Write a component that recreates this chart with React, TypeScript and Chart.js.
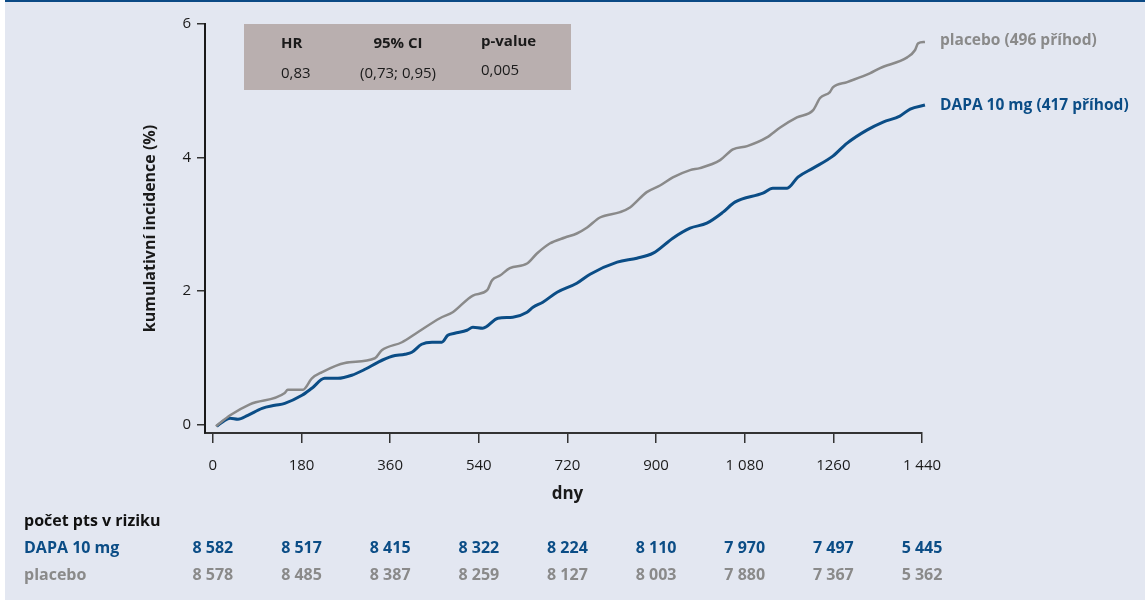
import React, { useEffect, useRef } from "react";
import { Chart, registerables } from "chart.js";

Chart.register(...registerables);

const placeboDays = [6, 35, 75, 146, 152, 183, 201, 221, 268, 329, 343, 384, 416, 461, 487, 528, 557, 567, 583, 603, 638, 658, 684, 715, 739, 760, 786, 827, 847, 881, 908, 934, 969, 989, 1030, 1056, 1085, 1125, 1152, 1186, 1219, 1233, 1253, 1259, 1288, 1334, 1355, 1410, 1426, 1432, 1446];
const placeboValues = [-0.03, 0.135, 0.3, 0.47, 0.52, 0.52, 0.69, 0.78, 0.92, 0.99, 1.11, 1.23, 1.38, 1.59, 1.68, 1.93, 2.01, 2.16, 2.23, 2.34, 2.41, 2.56, 2.71, 2.8, 2.86, 2.95, 3.1, 3.18, 3.25, 3.48, 3.58, 3.7, 3.81, 3.84, 3.96, 4.12, 4.17, 4.3, 4.45, 4.6, 4.71, 4.89, 4.98, 5.05, 5.13, 5.26, 5.34, 5.5, 5.61, 5.71, 5.73];

const dapaDays = [8, 24, 35, 51, 71, 100, 126, 146, 181, 201, 227, 254, 282, 309, 335, 364, 390, 404, 424, 445, 465, 477, 491, 516, 528, 548, 579, 609, 638, 650, 670, 699, 739, 766, 821, 861, 894, 934, 969, 1003, 1036, 1060, 1117, 1137, 1166, 1188, 1219, 1259, 1288, 1328, 1361, 1395, 1416, 1446];
const dapaValues = [-0.03, 0.06, 0.09, 0.075, 0.135, 0.24, 0.285, 0.315, 0.435, 0.54, 0.69, 0.69, 0.735, 0.825, 0.93, 1.02, 1.05, 1.08, 1.2, 1.23, 1.23, 1.335, 1.365, 1.41, 1.455, 1.44, 1.59, 1.605, 1.68, 1.755, 1.83, 1.98, 2.115, 2.25, 2.43, 2.49, 2.565, 2.79, 2.94, 3.015, 3.18, 3.33, 3.465, 3.54, 3.54, 3.705, 3.84, 4.02, 4.215, 4.41, 4.53, 4.62, 4.725, 4.785];

const xTickValues = [0, 180, 360, 540, 720, 900, 1080, 1260, 1440];
const xTickLabels = ["0", "180", "360", "540", "720", "900", "1 080", "1260", "1 440"];
const yTickValues = [0, 2, 4, 6];

const riskDapa = ["8 582", "8 517", "8 415", "8 322", "8 224", "8 110", "7 970", "7 497", "5 445"];
const riskPlacebo = ["8 578", "8 485", "8 387", "8 259", "8 127", "8 003", "7 880", "7 367", "5 362"];

const statsHeaders = ["HR", "95% CI", "p-value"];
const statsValues = ["0,83", "(0,73; 0,95)", "0,005"];

const seriesNames = ["placebo (496 příhod)", "DAPA 10 mg (417 příhod)"];
const riskTitle = "počet pts v riziku";
const riskRowNames = ["DAPA 10 mg", "placebo"];
const yTitle = "kumulativní incidence (%)";
const xTitle = "dny";

const BLUE = "#0b4d86";
const GRAY = "#8a8a8a";
const BG = "#e3e7f1";
const FONT = "'Open Sans', 'Noto Sans', sans-serif";

export default function App() {
  const ref = useRef<HTMLCanvasElement | null>(null);

  useEffect(() => {
    if (!ref.current) return;
    const decor = {
      id: "decor",
      beforeDraw(chart: any) {
        const ctx = chart.ctx;
        ctx.save();
        ctx.fillStyle = "#ffffff";
        ctx.fillRect(0, 0, 1145, 603);
        ctx.fillStyle = BG;
        ctx.fillRect(5, 0, 1140, 600);
        ctx.fillStyle = "#0b4a85";
        ctx.fillRect(5, 0, 1140, 2);
        // stats box
        ctx.fillStyle = "#b9afaf";
        ctx.fillRect(244, 24, 327, 66);
        ctx.fillStyle = "#1a1a1a";
        ctx.textBaseline = "middle";
        ctx.font = `bold 15px ${FONT}`;
        ctx.textAlign = "left";
        ctx.fillText(statsHeaders[0], 281, 44);
        ctx.textAlign = "center";
        ctx.fillText(statsHeaders[1], 398, 44);
        ctx.textAlign = "left";
        ctx.fillText(statsHeaders[2], 481, 42);
        ctx.font = `15px ${FONT}`;
        ctx.textAlign = "left";
        ctx.fillText(statsValues[0], 281, 74);
        ctx.textAlign = "center";
        ctx.fillText(statsValues[1], 398, 74);
        ctx.textAlign = "left";
        ctx.fillText(statsValues[2], 481, 71);
        ctx.restore();
      },
      afterDraw(chart: any) {
        const ctx = chart.ctx;
        const xs = chart.scales.x;
        const ys = chart.scales.y;
        const area = chart.chartArea;
        ctx.save();
        ctx.textBaseline = "middle";
        // y title
        ctx.save();
        ctx.translate(150, (area.top + area.bottom) / 2);
        ctx.rotate(-Math.PI / 2);
        ctx.textAlign = "center";
        ctx.fillStyle = "#1a1a1a";
        ctx.font = `bold 16px ${FONT}`;
        ctx.fillText(yTitle, 0, 0);
        ctx.restore();
        // x title
        ctx.textAlign = "center";
        ctx.fillStyle = "#1a1a1a";
        ctx.font = `bold 17px ${FONT}`;
        ctx.fillText(xTitle, xs.getPixelForValue(720), 494);
        // series labels
        ctx.textAlign = "left";
        ctx.font = `bold 15.5px ${FONT}`;
        ctx.fillStyle = GRAY;
        ctx.fillText(seriesNames[0], 940, ys.getPixelForValue(placeboValues[placeboValues.length - 1]) - 1);
        ctx.fillStyle = BLUE;
        ctx.fillText(seriesNames[1], 940, ys.getPixelForValue(dapaValues[dapaValues.length - 1]) + 1);
        // risk table
        ctx.font = `bold 16px ${FONT}`;
        ctx.fillStyle = "#111111";
        ctx.fillText(riskTitle, 24, 521);
        ctx.fillStyle = BLUE;
        ctx.fillText(riskRowNames[0], 24, 548);
        ctx.fillStyle = GRAY;
        ctx.fillText(riskRowNames[1], 24, 575);
        ctx.textAlign = "center";
        xTickValues.forEach((v, i) => {
          const px = xs.getPixelForValue(v);
          ctx.fillStyle = BLUE;
          ctx.fillText(riskDapa[i], px, 548);
          ctx.fillStyle = GRAY;
          ctx.fillText(riskPlacebo[i], px, 575);
        });
        ctx.restore();
      },
    };

    const chart = new Chart(ref.current, {
      type: "line",
      data: {
        datasets: [
          {
            label: "placebo",
            data: placeboDays.map((d, i) => ({ x: d, y: placeboValues[i] })),
            borderColor: GRAY,
            borderWidth: 2.5,
            pointRadius: 0,
            cubicInterpolationMode: "monotone",
            clip: false as any,
          },
          {
            label: "DAPA 10 mg",
            data: dapaDays.map((d, i) => ({ x: d, y: dapaValues[i] })),
            borderColor: BLUE,
            borderWidth: 3,
            pointRadius: 0,
            cubicInterpolationMode: "monotone",
            clip: false as any,
          },
        ],
      },
      plugins: [decor],
      options: {
        animation: false,
        responsive: false,
        devicePixelRatio: 1,
        layout: { padding: { left: 0, top: 24, right: 223, bottom: 130 } },
        plugins: { legend: { display: false }, tooltip: { enabled: false } },
        scales: {
          x: {
            type: "linear",
            min: -16,
            max: 1440,
            afterFit: (s: any) => { s.height = 40; },
            afterBuildTicks: (s: any) => { s.ticks = xTickValues.map((v) => ({ value: v })); },
            ticks: {
              autoSkip: false,
              maxRotation: 0,
              padding: 14,
              color: "#1a1a1a",
              font: { family: FONT, size: 15 },
              callback: (v: any) => {
                const i = xTickValues.indexOf(Number(v));
                return i >= 0 ? xTickLabels[i] : "";
              },
            },
            grid: { display: true, drawOnChartArea: false, drawTicks: true, tickLength: 10, color: "#333", lineWidth: 1.5 },
            border: { display: true, color: "#333", width: 2 },
          },
          y: {
            type: "linear",
            min: -0.13,
            max: 6,
            afterFit: (s: any) => { s.width = 205; },
            afterBuildTicks: (s: any) => { s.ticks = yTickValues.map((v) => ({ value: v })); },
            ticks: {
              padding: 6,
              color: "#1a1a1a",
              font: { family: FONT, size: 15 },
            },
            grid: { display: true, drawOnChartArea: false, drawTicks: true, tickLength: 8, color: "#333", lineWidth: 1.5 },
            border: { display: true, color: "#1a1a1a", width: 2 },
          },
        },
      },
    });
    return () => chart.destroy();
  }, []);

  return (
    <div style={{ position: "fixed", left: 0, top: 0, width: 1145, height: 603 }}>
      <canvas ref={ref} width={1145} height={603} style={{ width: 1145, height: 603, display: "block" }} />
    </div>
  );
}
